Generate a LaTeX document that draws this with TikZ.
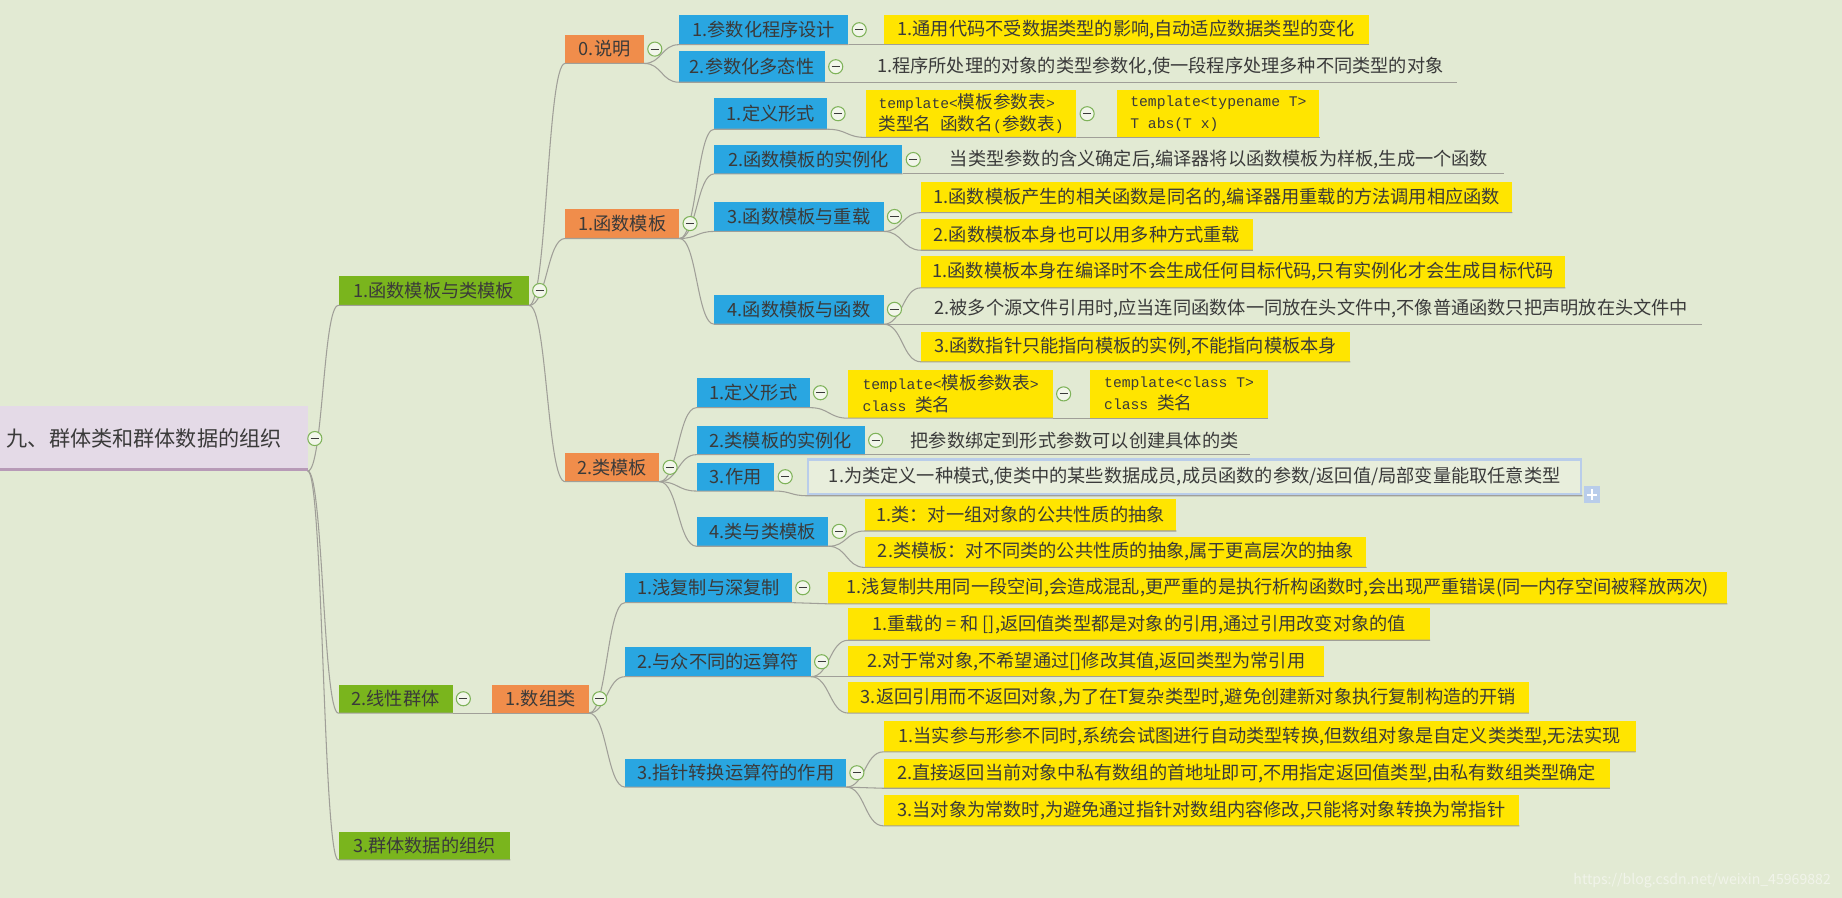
\documentclass[tikz,border=0pt]{standalone}
\usepackage{fontspec}
\setmainfont{Noto Sans CJK SC}
\newfontfamily\mono{Liberation Mono}
\usetikzlibrary{calc, positioning}

\definecolor{bgc}{HTML}{E2EAD3}
\definecolor{txt}{HTML}{3A3A3A}
\definecolor{lvAc}{HTML}{7AB51D}
\definecolor{lvBc}{HTML}{F08D4B}
\definecolor{lvCc}{HTML}{29A6E1}
\definecolor{leafc}{HTML}{FFE500}
\definecolor{rootc}{HTML}{E4DAE7}
\definecolor{rootl}{HTML}{B79AB7}
\definecolor{linec}{HTML}{A09F98}
\definecolor{foldc}{HTML}{7FB35A}
\definecolor{foldbg}{HTML}{F2F6EA}
\definecolor{selc}{HTML}{B9CDEA}
\definecolor{wmark}{HTML}{F1F4EA}

\tikzset{
  topic/.style={anchor=south west, inner xsep=8, inner ysep=0, minimum height=25,
    text=txt, font=\fontsize{15.5}{18}\selectfont},
  lvA/.style={topic, fill=lvAc},
  lvB/.style={topic, fill=lvBc},
  lvC/.style={topic, fill=lvCc},
  leaf/.style={topic, fill=leafc},
  note/.style={topic},
  code/.style={topic, fill=leafc, align=left, minimum height=40, font=\fontsize{15}{19}\selectfont},
  chosen/.style={topic, draw=selc, line width=2, fill=bgc!80!white},
  conn/.style={draw=linec, line width=0.9},
  fold/.style={circle, draw=foldc, fill=foldbg, line width=0.9, minimum size=12, inner sep=0,
    path picture={\draw[line width=0.9, draw=txt]
      ([xshift=-3.5]path picture bounding box.center) -- ([xshift=3.5]path picture bounding box.center);}},
  more/.style={fill=selc, minimum size=14, inner sep=0,
    path picture={\draw[line width=1.6, draw=white]
      ([xshift=-4.5]path picture bounding box.center) -- ([xshift=4.5]path picture bounding box.center)
      ([yshift=-4.5]path picture bounding box.center) -- ([yshift=4.5]path picture bounding box.center);}},
}

% curve from the bottom right of a topic to the bottom left of its child, then under the child
\newcommand{\branch}[2]{%
  \coordinate (mid) at ($(#1.south east)!0.5!(#2.south west)$);
  \draw[conn] (#1.south east) .. controls (mid |- #1.south east) and (mid |- #2.south west)
    .. (#2.south west) -- (#2.south east);
}
\newcommand{\fold}[1]{\node[fold] (f-#1) at ([xshift=9]#1.east) {};}
\newcommand{\cd}[1]{{\fontsize{12.5}{19}\mono #1}}

\begin{document}
\begin{tikzpicture}[x=1pt, y=-1pt]
        \useasboundingbox (0,0) rectangle (1568,764);
        \clip (0,0) rectangle (1568,764);
        \fill[bgc] (0,0) rectangle (1568,764);

        % central topic
        \node[fill=rootc, text=txt, font=\fontsize{18}{22}\selectfont, anchor=south east,
            minimum height=55, text width=254, align=right, inner xsep=22, inner ysep=0]
            (root) at (262,401) {九、群体类和群体数据的组织};
        \draw[rootl, line width=3] ([yshift=1.5]root.south west) -- ([yshift=1.5]root.south east);

        % level 1
        \node[lvA, minimum width=162] (g1) at (288,260) {1.函数模板与类模板};
        \node[lvA, minimum width=97, minimum height=24] (g2) at (288,607) {2.线性群体};
        \node[lvA, minimum width=146, minimum height=24] (g3) at (288,732) {3.群体数据的组织};

        % level 2
        \node[lvB, minimum width=67, minimum height=24] (o0) at (481,54) {0.说明};
        \node[lvB, minimum width=97] (o1) at (481,203) {1.函数模板};
        \node[lvB, minimum width=80, minimum height=24] (o2) at (481,410) {2.类模板};
        \node[lvB, minimum width=82, minimum height=24] (o3) at (419,607) {1.数组类};

        % level 3
        \node[lvC, minimum width=144] (b01) at (578,38) {1.参数化程序设计};
        \node[lvC, minimum width=124, minimum height=26] (b02) at (578,70) {2.参数化多态性};
        \node[lvC, minimum width=96, minimum height=26] (b11) at (608,110) {1.定义形式};
        \node[lvC, minimum width=160, minimum height=24] (b12) at (608,148) {2.函数模板的实例化};
        \node[lvC, minimum width=144] (b13) at (608,197) {3.函数模板与重载};
        \node[lvC, minimum width=144] (b14) at (608,276) {4.函数模板与函数};
        \node[lvC, minimum width=96] (b21) at (593,347) {1.定义形式};
        \node[lvC, minimum width=143, minimum height=24] (b22) at (593,387) {2.类模板的实例化};
        \node[lvC, minimum width=66, minimum height=24] (b23) at (593,418) {3.作用};
        \node[lvC, minimum width=112] (b24) at (593,465) {4.类与类模板};
        \node[lvC, minimum width=142] (b31) at (532,513) {1.浅复制与深复制};
        \node[lvC, minimum width=158] (b32) at (532,576) {2.与众不同的运算符};
        \node[lvC, minimum width=188, minimum height=24] (b33) at (532,670) {3.指针转换运算符的作用};

        % level 4
        \node[leaf, minimum width=413] (y011) at (752,38) {1.通用代码不受数据类型的影响,自动适应数据类型的变化};
        \node[note, minimum width=505, minimum height=26] (p021) at (735,70) {1.程序所处理的对象的类型参数化,使一段程序处理多种不同类型的对象};
        \node[code, minimum width=179] (y111) at (737,117) {\cd{template<}模板参数表\cd{>}\\类型名\cd{ }函数名\cd{(}参数表\cd{)}};
        \node[code, minimum width=172] (y112) at (951,117) {\cd{template<typename T>}\\\cd{T abs(T x)}};
        \node[note, minimum width=485, minimum height=24] (p121) at (795,148) {当类型参数的含义确定后,编译器将以函数模板为样板,生成一个函数};
        \node[leaf, minimum width=503, minimum height=26] (y131) at (784,181) {1.函数模板产生的相关函数是同名的,编译器用重载的方法调用相应函数};
        \node[leaf, minimum width=282, minimum height=26] (y132) at (784,213) {2.函数模板本身也可以用多种方式重载};
        \node[leaf, minimum width=548, minimum height=27] (y141) at (784,245) {1.函数模板本身在编译时不会生成任何目标代码,只有实例化才会生成目标代码};
        \node[note, minimum width=664, minimum height=26] (p142) at (784,276) {2.被多个源文件引用时,应当连同函数体一同放在头文件中,不像普通函数只把声明放在头文件中};
        \node[leaf, minimum width=365] (y143) at (784,308) {3.函数指针只能指向模板的实例,不能指向模板本身};
        \node[code, minimum width=174, minimum height=41] (y211) at (722,356) {\cd{template<}模板参数表\cd{>}\\\cd{class }类名};
        \node[code, minimum width=151, minimum height=41] (y212) at (928,356) {\cd{template<class T>}\\\cd{class }类名};
        \node[note, minimum width=299, minimum height=24] (p221) at (765,387) {把参数绑定到形式参数可以创建具体的类};
        \node[chosen, minimum width=658, minimum height=30] (s231) at (687,422) {1.为类定义一种模式,使类中的某些数据成员,成员函数的参数/返回值/局部变量能取任意类型};
        \node[more] (plus) at ([xshift=8,yshift=1]s231.south east) {};
        \node[leaf, minimum width=265, minimum height=27] (y241) at (736,452) {1.类：对一组对象的公共性质的抽象};
        \node[leaf, minimum width=427, minimum height=26] (y242) at (736,483) {2.类模板：对不同类的公共性质的抽象,属于更高层次的抽象};
        \node[leaf, minimum width=765, minimum height=27] (y311) at (705,514) {1.浅复制共用同一段空间,会造成混乱,更严重的是执行析构函数时,会出现严重错误(同一内存空间被释放两次)};
        \node[leaf, minimum width=495, minimum height=27] (y321) at (722,545) {1.重载的 = 和 [],返回值类型都是对象的引用,通过引用改变对象的值};
        \node[leaf, minimum width=405, minimum height=26] (y322) at (722,576) {2.对于常对象,不希望通过[]修改其值,返回类型为常引用};
        \node[leaf, minimum width=579, minimum height=26] (y323) at (722,607) {3.返回引用而不返回对象,为了在T复杂类型时,避免创建新对象执行复制构造的开销};
        \node[leaf, minimum width=640, minimum height=26] (y331) at (752,640) {1.当实参与形参不同时,系统会试图进行自动类型转换,但数组对象是自定义类类型,无法实现};
        \node[leaf, minimum width=618, minimum height=25] (y332) at (752,671) {2.直接返回当前对象中私有数组的首地址即可,不用指定返回值类型,由私有数组类型确定};
        \node[leaf, minimum width=541, minimum height=26] (y333) at (752,703) {3.当对象为常数时,为避免通过指针对数组内容修改,只能将对象转换为常指针};

        % connectors
        \foreach \p/\c in {root/g1, root/g2, root/g3, g1/o0, g1/o1, g1/o2, g2/o3,
            o0/b01, o0/b02, o1/b11, o1/b12, o1/b13, o1/b14, o2/b21, o2/b22, o2/b23, o2/b24,
            o3/b31, o3/b32, o3/b33, b01/y011, b02/p021, b11/y111, y111/y112, b12/p121,
            b13/y131, b13/y132, b14/y141, b14/p142, b14/y143, b21/y211, y211/y212,
            b22/p221, b23/s231, b24/y241, b24/y242, b31/y311, b32/y321, b32/y322, b32/y323,
            b33/y331, b33/y332, b33/y333}
            {\branch{\p}{\c}}

        % collapse buttons
        \node[fold] (f-root) at ([xshift=6]root.east) {};
        \foreach \n in {g1, g2, o0, o1, o2, o3, b01, b02, b11, b12, b13, b14,
            b21, b22, b23, b24, b31, b32, b33, y111, y211}
            {\fold{\n}}

        \node[text=wmark, font=\fontsize{12}{14}\selectfont, anchor=east] (wm) at (1562,750) {https://blog.csdn.net/weixin\_45969882};
    \end{tikzpicture}
\end{document}
